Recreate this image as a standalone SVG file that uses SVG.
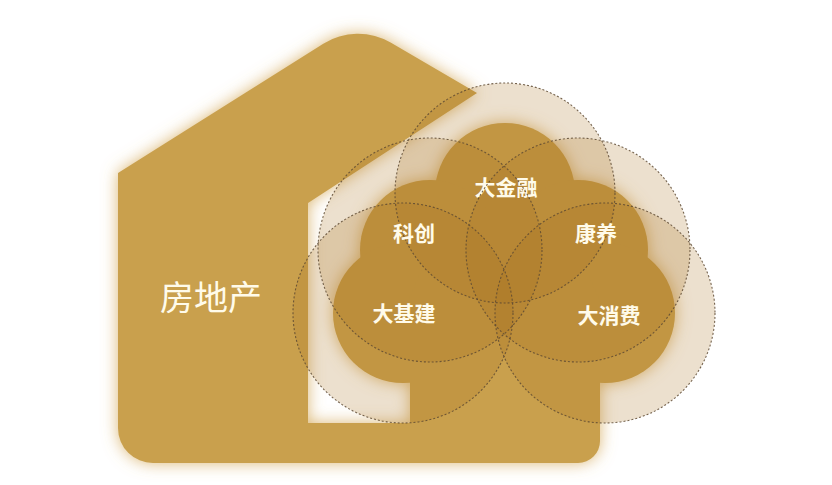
<svg xmlns="http://www.w3.org/2000/svg" width="832" height="485" viewBox="0 0 832 485">
  <defs>
    <filter id="glow" x="-10%" y="-10%" width="120%" height="120%">
      <feGaussianBlur in="SourceAlpha" stdDeviation="8" result="b"/>
      <feFlood flood-color="#d2a552" flood-opacity="0.8"/>
      <feComposite in2="b" operator="in" result="g"/>
      <feMerge>
        <feMergeNode in="g"/>
        <feMergeNode in="SourceGraphic"/>
      </feMerge>
    </filter>
    <style>
      .gold { fill: #c9a04e; }
      .ring-fill { fill: #a87020; fill-opacity: 0.22; }
      .ring { fill: none; stroke: #5e4a33; stroke-width: 1.1; stroke-dasharray: 2 2; stroke-opacity: 0.85; }
      .lbl { font-family: "Noto Sans CJK SC", "Noto Sans", sans-serif; font-weight: 700; font-size: 21px; fill: #fffbea; text-anchor: middle; }
      .big { font-family: "Noto Sans CJK SC", "Noto Sans", sans-serif; font-weight: 400; font-size: 34px; fill: #fffbea; text-anchor: middle; }
    </style>
  </defs>
  <rect width="832" height="485" fill="#ffffff"/>

  <g filter="url(#glow)">
    <g id="house">
      <path class="gold" d="M118,173 L323.3,43.7 A65,65 0 0 1 390.6,42.6 L477,93 L308,203 L308,423 L600,423 L600,441 A22,22 0 0 1 578,463 L153,463 A35,35 0 0 1 118,428 Z"/>
    </g>
    <g id="cloud">
      <circle class="gold" cx="505" cy="193" r="70"/>
      <circle class="gold" cx="430" cy="250" r="70"/>
      <circle class="gold" cx="578" cy="250" r="70"/>
      <circle class="gold" cx="403" cy="313" r="70"/>
      <circle class="gold" cx="605" cy="313" r="70"/>
      <polygon class="gold" points="505,193 578,250 605,313 505,340 403,313 430,250"/>
      <rect class="gold" x="410" y="313" width="190" height="120"/>
    </g>
  </g>
  <text id="label-house" class="big" x="211" y="310">房地产</text>

  <g id="ring-fills">
    <circle class="ring-fill" cx="505" cy="193" r="110"/>
    <circle class="ring-fill" cx="430" cy="250" r="112"/>
    <circle class="ring-fill" cx="578" cy="250" r="112"/>
    <circle class="ring-fill" cx="403" cy="313" r="110"/>
    <circle class="ring-fill" cx="605" cy="313" r="110"/>
  </g>

  <g id="connectors"></g>

  <g id="node-dajinrong">
    <circle class="ring" cx="505" cy="193" r="110"/>
    <text class="lbl" x="506" y="195">大金融</text>
  </g>
  <g id="node-kechuang">
    <circle class="ring" cx="430" cy="250" r="112"/>
    <text class="lbl" x="414" y="241">科创</text>
  </g>
  <g id="node-kangyang">
    <circle class="ring" cx="578" cy="250" r="112"/>
    <text class="lbl" x="596" y="241">康养</text>
  </g>
  <g id="node-dajijian">
    <circle class="ring" cx="403" cy="313" r="110"/>
    <text class="lbl" x="404" y="321">大基建</text>
  </g>
  <g id="node-daxiaofei">
    <circle class="ring" cx="605" cy="313" r="110"/>
    <text class="lbl" x="609" y="323">大消费</text>
  </g>
</svg>
